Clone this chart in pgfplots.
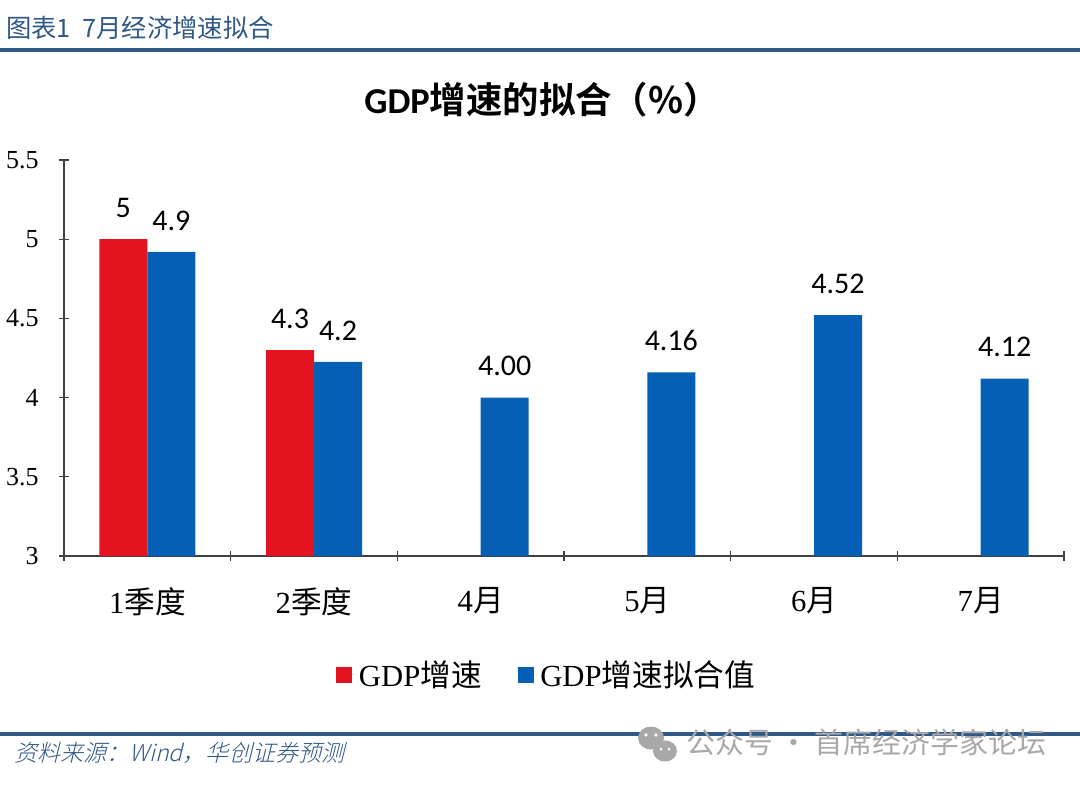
\documentclass[border=0pt]{standalone}
\usepackage{fontspec}
\usepackage{pgfplots}
\pgfplotsset{compat=1.18}
\setmainfont{Liberation Serif}
\newfontfamily\cjk{Noto Sans CJK SC}
\newfontfamily\cjkslant[FakeSlant=0.25]{Noto Sans CJK SC Light}
\newfontfamily\cjkbold{Noto Sans CJK SC Bold}
\newfontfamily\labelfont{Carlito}
\definecolor{gdpred}{HTML}{E3141F}
\definecolor{gdpblue}{HTML}{0560B5}
\definecolor{headblue}{HTML}{2F5788}
\definecolor{wmgrey}{HTML}{A8A8A8}

\begin{document}
\begin{tikzpicture}[x=0.75pt,y=-0.75pt]
% page box in reference pixels, y down
\path[use as bounding box] (0,0) rectangle (1080,785);

\node[anchor=west,inner sep=0pt,text=headblue,font=\cjk\fontsize{19pt}{21pt}\selectfont] at (6,28) {图表1\ \ 7月经济增速拟合};
\fill[headblue] (0,47.5) rectangle (1080,51.5);
\fill[headblue] (0,731.5) rectangle (1080,735.5);
\node[anchor=west,inner sep=0pt,text=headblue,font=\cjkslant\fontsize{17.3pt}{19pt}\selectfont] at (14,753) {资料来源：Wind，华创证券预测};

\node[font=\cjkbold\fontsize{27.3pt}{29pt}\selectfont] at (542,100) {{\labelfont\bfseries GDP}增速的拟合（\%）};

% watermark
\fill[wmgrey] (651,738) ellipse (13 and 11.5);
\fill[wmgrey] (665,751) ellipse (12 and 10.5);
\fill[white] (646,735) circle (1.8) (656,735) circle (1.8) (661,749) circle (1.5) (669,749) circle (1.5);
\node[anchor=west,inner sep=0pt,text=wmgrey,font=\cjk\fontsize{21.7pt}{23pt}\selectfont] at (686,742) {公众号 · 首席经济学家论坛};

\coordinate (axorigin) at (64,556);
\begin{axis}[
    at={(axorigin)},
    anchor=south west,
    scale only axis,
    width=750pt,
    height=297pt,
    ybar=0pt,
    bar width=36pt,
    ymin=3, ymax=5.5,
    xmin=-0.5, xmax=5.5,
    xtick={-0.5,0.5,...,5.5},
    xticklabels={},
    extra x ticks={0,1,2,3,4,5},
    extra x tick labels={1{\cjk 季度},2{\cjk 季度},4{\cjk 月},5{\cjk 月},6{\cjk 月},7{\cjk 月}},
    extra x tick style={major tick length=0pt,
        tick label style={font=\fontsize{23pt}{25pt}\selectfont,yshift=-20pt}},
    ytick={3,3.5,4,4.5,5,5.5},
    yticklabels={3,3.5,4,4.5,5,5.5},
    y tick label style={xshift=-12pt},
    tick label style={font=\fontsize{19.5pt}{22pt}\selectfont},
    tick align=outside,
    major tick length=7pt,
    tick style={color=black!75,line width=0.9pt},
    axis line style={color=black!75,line width=0.9pt},
    axis x line=bottom,
    axis y line=left,
    x axis line style={-},
    y axis line style={-},
    clip=false,
    nodes near coords,
    point meta=explicit symbolic,
    every node near coord/.append style={font=\labelfont\fontsize{22.5pt}{24pt}\selectfont,yshift=12.5pt,black},
    legend style={at={(0.483,-0.25)},anchor=north,draw=none,fill=none,
        legend columns=2,
        font=\fontsize{23pt}{25pt}\selectfont,
        /tikz/every even column/.append style={column sep=25pt}},
    legend image code/.code={\fill[#1] (0pt,-6pt) rectangle (12pt,6pt);\path (0pt,0pt) -- (15pt,0pt);},
]
\addplot[fill=gdpred,draw=none] coordinates {(0,5)[5] (1,4.3)[4.3]};
\addlegendentry{GDP{\cjk 增速}}
\addplot[fill=gdpblue,draw=none] coordinates {(0,4.92)[4.9] (1,4.225)[4.2] (2,4.00)[4.00] (3,4.16)[4.16] (4,4.52)[4.52] (5,4.12)[4.12]};
\addlegendentry{GDP{\cjk 增速拟合值}}
\end{axis}
\end{tikzpicture}
\end{document}
